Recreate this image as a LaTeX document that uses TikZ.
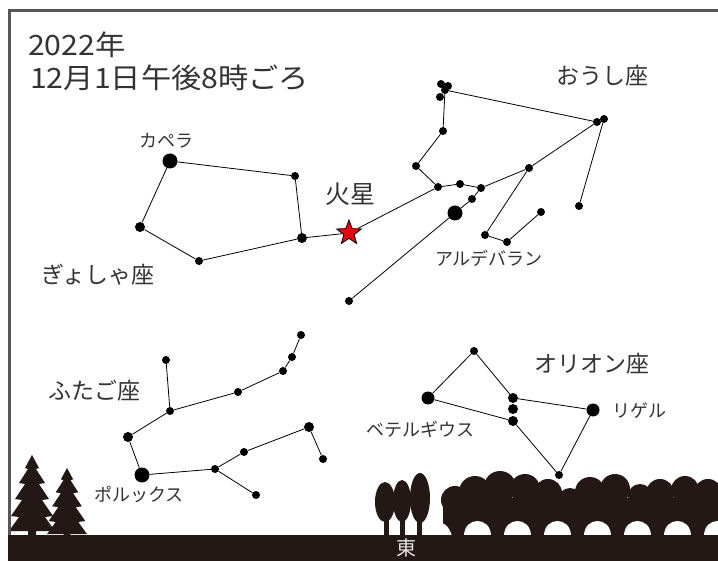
\documentclass[tikz,border=0pt]{standalone}
\usepackage{fontspec}
\setmainfont{Noto Sans CJK JP}
\newfontfamily\widefont{Noto Sans CJK JP}[FakeStretch=1.08]
\usepackage{tikz}
\usetikzlibrary{shapes.geometric}

\definecolor{ink}{HTML}{333333}
\definecolor{soil}{HTML}{231815}
\definecolor{edge}{HTML}{5A5556}
\definecolor{marsred}{HTML}{E60012}

\begin{document}
\begin{tikzpicture}[x=1pt, y=-1pt,
    dotL/.style={circle, fill=black, inner sep=0pt, minimum size=15pt},
    dotB/.style={circle, fill=black, inner sep=0pt, minimum size=13pt},
    dotM/.style={circle, fill=black, inner sep=0pt, minimum size=10pt},
    dotS/.style={circle, fill=black, inner sep=0pt, minimum size=8pt},
    link/.style={line width=0.8pt},
    title/.style={text=ink, inner sep=0pt, anchor=west, font=\widefont\fontsize{28}{28}\selectfont},
    conname/.style={text=ink, inner sep=0pt, font=\fontsize{23}{23}\selectfont},
    starname/.style={text=ink, inner sep=0pt, font=\fontsize{18}{18}\selectfont}]

    \useasboundingbox (0,0) rectangle (718,561);

    % Title
    \node[title] (year) at (28,45) {2022年};
    \node[title] (date) at (30,78) {12月1日午後8時ごろ};

    % Auriga
    \node[dotL] (cap) at (170,161) {};
    \node[dotS] (au1) at (295,176) {};
    \node[dotM] (au2) at (302,238) {};
    \node[dotS] (au3) at (199,261) {};
    \node[dotM] (au4) at (140,227) {};
    \node[starname] (capl) at (166,141) {カペラ};
    \node[conname] (aurl) at (98,275) {ぎょしゃ座};

    % Taurus
    \node[dotS] (el) at (438,187) {};
    \node[dotS] (ta1) at (416,166) {};
    \node[dotS] (ta2) at (443,131) {};
    \node[dotS] (pl) at (445,90) {};
    \node[dotS] (pl1) at (441,84) {};
    \node[dotS] (pl2) at (448,86) {};
    \node[dotS] (pl3) at (440,97) {};
    \node[dotS] (ta3) at (597,122) {};
    \node[dotS] (ta3b) at (604,119) {};
    \node[dotS] (ta4) at (529,168) {};
    \node[dotS] (ta5) at (481,188) {};
    \node[dotS] (ta6) at (460,184) {};
    \node[dotS] (ta7) at (472,199) {};
    \node[dotL] (ald) at (455,213) {};
    \node[dotS] (ta8) at (349,301) {};
    \node[dotS] (ta9) at (579,206) {};
    \node[dotS] (ta10) at (485,235) {};
    \node[dotS] (ta11) at (507,242) {};
    \node[dotS] (ta12) at (541,212) {};
    \node[starname] (aldl) at (489,258) {アルデバラン};
    \node[conname] (taul) at (602,76) {おうし座};

    % Mars
    \node[star, star points=5, star point ratio=2.4, draw=black, fill=marsred,
          inner sep=0pt, minimum size=26pt, line width=0.8pt] (mars) at (349,233) {};
    \node[text=ink, inner sep=0pt, font=\fontsize{25}{25}\selectfont] (marsl) at (350,194) {火星};

    % Gemini
    \node[dotS] (ge1) at (166,360) {};
    \node[dotS] (ge2) at (170,411) {};
    \node[dotS] (ge3) at (238,392) {};
    \node[dotS] (ge4) at (283,371) {};
    \node[dotS] (ge5) at (292,357) {};
    \node[dotS] (ge6) at (301,335) {};
    \node[dotM] (ge7) at (128,437) {};
    \node[dotL] (pol) at (142,475) {};
    \node[dotS] (ge8) at (215,469) {};
    \node[dotS] (ge9) at (244,452) {};
    \node[dotM] (ge10) at (309,427) {};
    \node[dotS] (ge11) at (323,459) {};
    \node[dotS] (ge12) at (256,495) {};
    \node[conname] (geml) at (94,391) {ふたご座};
    \node[starname] (poll) at (139,495) {ポルックス};

    % Orion
    \node[dotS] (or1) at (474,351) {};
    \node[dotB] (bet) at (428,398) {};
    \node[dotM] (belt1) at (513,398) {};
    \node[dotM] (belt2) at (513,409) {};
    \node[dotM] (belt3) at (513,421) {};
    \node[dotB] (rig) at (593,410) {};
    \node[dotS] (or2) at (559,475) {};
    \node[conname] (oril) at (592,364) {オリオン座};
    \node[starname] (rigl) at (639,411) {リゲル};
    \node[starname] (betl) at (420,429) {ベテルギウス};

    % Edges - Auriga
    \draw[link] (cap) -- (au1) -- (au2) -- (au3) -- (au4) -- (cap);
    \draw[link] (au2) -- (mars) -- (el);

    % Edges - Taurus
    \draw[link] (el) -- (ta1) -- (ta2) -- (pl) -- (ta3) -- (ta4) -- (ta5) -- (ta6) -- (el);
    \draw[link] (ta3b) -- (ta9);
    \draw[link] (ta5) -- (ta7) -- (ald) -- (ta8);
    \draw[link] (ta4) -- (ta10) -- (ta11) -- (ta12);

    % Edges - Gemini
    \draw[link] (ge1) -- (ge2) -- (ge3) -- (ge4) -- (ge5) -- (ge6);
    \draw[link] (ge2) -- (ge7) -- (pol) -- (ge8) -- (ge9) -- (ge10) -- (ge11);
    \draw[link] (ge8) -- (ge12);

    % Edges - Orion
    \draw[link] (bet) -- (or1) -- (belt1) -- (rig) -- (or2) -- (belt3) -- (bet);

    % Fir trees on the left
    \foreach \tx/\ty/\ts in {32/455/1, 67/468/0.87}
        \fill[soil, shift={(\tx,\ty)}, scale=\ts]
            (0,0) -- (7,13) -- (4,14) -- (13,28) -- (7,29) -- (17,44) -- (10,45)
            -- (21,61) -- (13,62) -- (23,76) -- (4,76) -- (4,82) -- (-4,82)
            -- (-4,76) -- (-23,76) -- (-13,62) -- (-21,61) -- (-10,45) -- (-17,44)
            -- (-7,29) -- (-13,28) -- (-4,14) -- (-7,13) -- cycle;

    % Poplars
    \fill[soil] (385,502) ellipse (10 and 20);
    \fill[soil] (402,501) ellipse (9 and 21);
    \fill[soil] (420,498) ellipse (10 and 25);
    \foreach \px in {386,402,419}
        \fill[soil] (\px-2.5,515) rectangle (\px+2.5,536);

    % Broadleaf row
    \foreach \cx/\cy/\r in {455/500/14, 475/492/16, 500/487/16, 525/489/15, 548/493/14,
                            570/500/12, 590/492/15, 615/489/15, 640/496/12, 660/493/14,
                            685/490/14, 708/493/14, 728/495/15}
        \fill[soil] (\cx,\cy) circle (\r);
    \fill[soil] (443,498) rectangle (718,536);
    \foreach \a/\b in {464/491, 504/531, 544/571, 584/611, 624/651, 664/691, 704/731}
        \fill[white] (\a,536) .. controls (\a,516) and (\b,516) .. (\b,536) -- cycle;
    \fill[white] (430,536) .. controls (436,520) and (446,518) .. (452,536) -- cycle;

    % Ground and frame
    \fill[soil] (8,535) rectangle (718,561);
    \draw[edge, line width=3pt] (9.5,535) -- (9.5,10.5) -- (718,10.5);
    \node[text=white!90!black, inner sep=0pt, font=\fontsize{20}{20}\selectfont] (east) at (406,548) {東};
\end{tikzpicture}
\end{document}
